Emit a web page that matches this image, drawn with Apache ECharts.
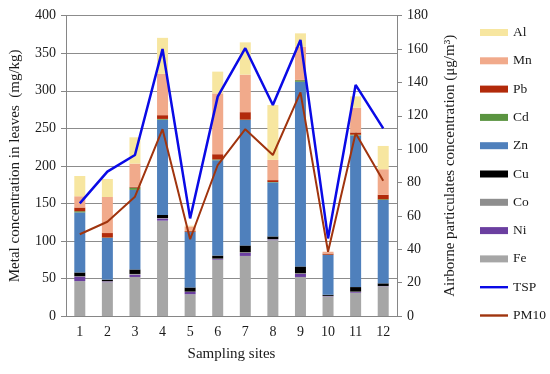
<!DOCTYPE html>
<html><head><meta charset="utf-8">
<script src="https://cdn.jsdelivr.net/npm/echarts@6/dist/echarts.min.js"></script>
<style>html,body{margin:0;padding:0;background:#fff}#c{width:550px;height:374px}</style>
</head><body><div id="c"></div>
<script>
const sites = ['1','2','3','4','5','6','7','8','9','10','11','12'];
const Fe = [46.5, 45, 52, 127, 29, 75, 80, 101, 52, 26, 31, 39];
const Ni = [6, 1, 3, 3, 3, 1, 4, 1, 4, 0.5, 1, 0.5];
const Co = [0.5, 0.5, 1, 0.5, 0.5, 0.5, 1, 0.5, 1, 0.3, 0.5, 0.5];
const Cu = [5, 2, 6, 4, 5.5, 4, 9, 3.5, 9, 1.5, 6, 3.5];
const Zn = [80, 55.5, 106, 127, 74, 127, 167, 72, 246, 53, 202, 111];
const Cd = [1.5, 0.5, 3, 1, 0.3, 1, 0.5, 0.5, 2, 0.3, 1, 1];
const Pb = [5, 6, 1, 5, 1, 7, 10, 2.5, 0.5, 1.5, 3, 6];
const Mn = [15, 48, 31, 55, 6, 81, 50, 27, 44, 2.5, 33, 34];
const Al = [27, 24, 35, 48, 1, 29, 43, 73, 18, 0, 15, 31];
const TSP = [67.5, 86.5, 96.5, 160, 58.5, 131.5, 160.5, 126.5, 165.5, 46.5, 138.5, 112.5];
const PM10 = [49, 56.5, 71.5, 112, 46, 90.5, 112, 96.5, 134, 38.5, 109.5, 81];
const leftTicks = [0, 400, 50];
const rightTicks = [0, 180, 20];

const FONT = 'Liberation Serif';
const txt = '#1a1a1a';
const metals = [
  ['Fe', Fe, '#A6A6A6'], ['Ni', Ni, '#6B3FA0'], ['Co', Co, '#8E8E8E'], ['Cu', Cu, '#000000'],
  ['Zn', Zn, '#4F80BC'], ['Cd', Cd, '#5A9440'], ['Pb', Pb, '#B22A0A'], ['Mn', Mn, '#F1AA8B'], ['Al', Al, '#F7E6A0']
];
const series = metals.map(m => ({
  name: m[0], type: 'bar', stack: 'metal', data: m[1], barWidth: 11,
  itemStyle: {color: m[2]}, emphasis: {disabled: true}
}));
series.push({name:'TSP', type:'line', yAxisIndex:1, data:TSP, symbol:'none', lineStyle:{color:'#0A0AE6', width:2.5}, itemStyle:{color:'#0A0AE6'}, z:5});
series.push({name:'PM10', type:'line', yAxisIndex:1, data:PM10, symbol:'none', lineStyle:{color:'#A0340E', width:2}, itemStyle:{color:'#A0340E'}, z:5});

const lineIcon = 'path://M0,0L28,0L28,2.4L0,2.4Z';
const legendNames = ['Al','Mn','Pb','Cd','Zn','Cu','Co','Ni','Fe','TSP','PM10'];
const chart = echarts.init(document.getElementById('c'), null, {renderer:'canvas'});
chart.setOption({
  animation: false,
  textStyle: {fontFamily: FONT},
  grid: {left: 66, right: 153, top: 15.7, bottom: 58},
  legend: {
    orient: 'vertical', left: 475, top: 20.5,
    itemWidth: 28, itemHeight: 7, itemGap: 14.3, symbolKeepAspect: true,
    textStyle: {fontFamily: FONT, fontSize: 13.5, color: txt, lineHeight: 14},
    data: legendNames.map(n => (n === 'TSP' || n === 'PM10') ? {name: n, icon: lineIcon} : {name: n, icon: 'rect'})
  },
  xAxis: {
    type: 'category', data: sites,
    name: 'Sampling sites', nameLocation: 'middle', nameGap: 31,
    nameTextStyle: {fontFamily: FONT, fontSize: 15, color: txt},
    axisLine: {lineStyle: {color: '#868686'}},
    axisTick: {lineStyle: {color: '#868686'}, length: 5},
    axisLabel: {fontFamily: FONT, fontSize: 14, color: txt, margin: 9}
  },
  yAxis: [{
    type: 'value', min: leftTicks[0], max: leftTicks[1], interval: leftTicks[2],
    name: 'Metal concentration in leaves  (mg/kg)', nameLocation: 'middle', nameGap: 43,
    nameTextStyle: {fontFamily: FONT, fontSize: 15, color: txt},
    axisLine: {show: true, lineStyle: {color: '#868686'}},
    axisTick: {show: true, lineStyle: {color: '#868686'}, length: 5},
    axisLabel: {fontFamily: FONT, fontSize: 14, color: txt, margin: 10},
    splitLine: {lineStyle: {color: '#8C8C8C'}}
  }, {
    type: 'value', min: rightTicks[0], max: rightTicks[1], interval: rightTicks[2],
    name: 'Airborne particulates concentration (μg/m³)', nameLocation: 'middle', nameGap: 46,
    nameTextStyle: {fontFamily: FONT, fontSize: 15, color: txt},
    axisLine: {show: true, lineStyle: {color: '#868686'}},
    axisTick: {show: true, lineStyle: {color: '#868686'}, length: 5},
    axisLabel: {fontFamily: FONT, fontSize: 14, color: txt, margin: 10},
    splitLine: {show: false}
  }],
  series: series
});
</script></body></html>
